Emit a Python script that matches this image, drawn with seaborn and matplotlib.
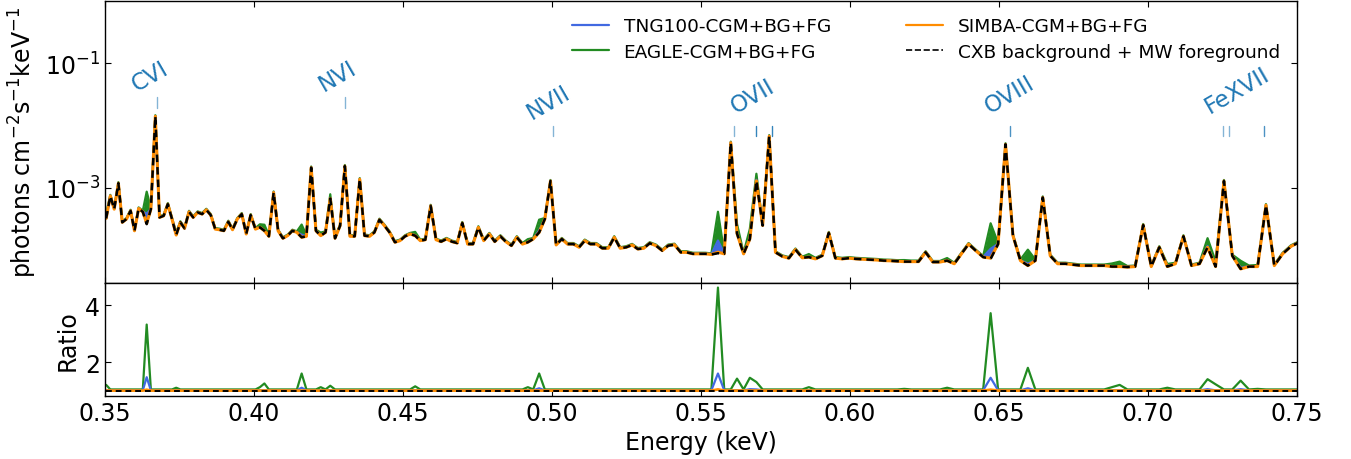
import numpy as np
import pandas as pd
import matplotlib
matplotlib.use("Agg")
import matplotlib.pyplot as plt
import seaborn as sns
from matplotlib.ticker import NullLocator, FixedLocator, LogFormatterSciNotation
from matplotlib.lines import Line2D

# ---------------- data ----------------
energy_keV = [
    0.3504, 0.3518, 0.3531, 0.3545, 0.3558, 0.3572, 0.3586, 0.3599, 0.3613, 0.3627,
    0.3640, 0.3654, 0.3669, 0.3683, 0.3697, 0.3711, 0.3725, 0.3739, 0.3753, 0.3767,
    0.3782, 0.3796, 0.3811, 0.3826, 0.3840, 0.3855, 0.3870, 0.3884, 0.3899, 0.3914,
    0.3928, 0.3944, 0.3959, 0.3974, 0.3989, 0.4005, 0.4020, 0.4035, 0.4050, 0.4066,
    0.4081, 0.4097, 0.4113, 0.4129, 0.4144, 0.4160, 0.4176, 0.4192, 0.4208, 0.4224,
    0.4240, 0.4256, 0.4272, 0.4289, 0.4305, 0.4322, 0.4338, 0.4355, 0.4371, 0.4388,
    0.4404, 0.4421, 0.4438, 0.4455, 0.4473, 0.4490, 0.4507, 0.4524, 0.4541, 0.4558,
    0.4575, 0.4593, 0.4611, 0.4628, 0.4646, 0.4664, 0.4682, 0.4699, 0.4717, 0.4735,
    0.4753, 0.4771, 0.4790, 0.4808, 0.4827, 0.4845, 0.4864, 0.4882, 0.4901, 0.4919,
    0.4937, 0.4957, 0.4976, 0.4995, 0.5014, 0.5033, 0.5052, 0.5072, 0.5091, 0.5110,
    0.5129, 0.5149, 0.5169, 0.5189, 0.5209, 0.5229, 0.5249, 0.5269, 0.5288, 0.5308,
    0.5328, 0.5349, 0.5370, 0.5390, 0.5411, 0.5432, 0.5452, 0.5473, 0.5494, 0.5515,
    0.5535, 0.5557, 0.5578, 0.5600, 0.5621, 0.5643, 0.5664, 0.5686, 0.5707, 0.5729,
    0.5750, 0.5773, 0.5795, 0.5817, 0.5840, 0.5862, 0.5884, 0.5907, 0.5929, 0.5951,
    0.5974, 0.5997, 0.6020, 0.6043, 0.6066, 0.6090, 0.6113, 0.6136, 0.6159, 0.6182,
    0.6206, 0.6230, 0.6254, 0.6278, 0.6302, 0.6326, 0.6350, 0.6374, 0.6398, 0.6422,
    0.6447, 0.6472, 0.6497, 0.6522, 0.6547, 0.6572, 0.6597, 0.6622, 0.6647, 0.6672,
    0.6697, 0.6723, 0.6749, 0.6775, 0.6801, 0.6827, 0.6853, 0.6879, 0.6905, 0.6931,
    0.6957, 0.6984, 0.7011, 0.7038, 0.7065, 0.7092, 0.7119, 0.7146, 0.7173, 0.7200,
    0.7227, 0.7255, 0.7283, 0.7311, 0.7339, 0.7368, 0.7396, 0.7424, 0.7452, 0.7480,
    0.7508,
]

# CXB background + MW foreground, units of 1e-5 photons cm^-2 s^-1 keV^-1
bg_flux_1e5 = [
    32.5, 74.5, 45.7, 119, 28.1, 31.7, 43.0, 20.6, 46.9, 41.4,
    26.3, 45.7, 1407, 33.7, 35.8, 55.0, 31.7, 17.6, 28.1, 22.5,
    41.4, 33.7, 40.5, 38.1, 44.6, 36.7, 21.9, 21.4, 20.6, 28.7,
    21.4, 31.7, 38.1, 18.3, 36.7, 21.9, 23.4, 20.6, 16.8, 84.5,
    20.6, 15.6, 17.2, 20.6, 19.4, 16.2, 16.8, 212, 20.6, 17.2,
    19.4, 67.8, 15.6, 24.8, 224, 16.8, 16.8, 138, 17.2, 16.8,
    19.4, 30.9, 24.8, 19.4, 13.5, 14.3, 16.8, 18.3, 17.2, 14.3,
    14.8, 51.6, 14.8, 13.8, 15.2, 13.8, 13.1, 27.4, 12.6, 12.6,
    23.4, 14.3, 18.3, 13.8, 16.8, 13.8, 11.9, 16.2, 12.6, 13.5,
    15.2, 19.4, 31.7, 129, 12.2, 15.2, 12.6, 12.6, 11.2, 14.3,
    12.6, 12.6, 10.8, 10.8, 16.2, 10.8, 11.2, 12.2, 10.5, 10.8,
    13.0, 11.9, 9.9, 11.9, 12.3, 9.3, 9.3, 8.8, 8.8, 8.8,
    8.6, 9.0, 8.8, 530, 18.6, 8.8, 15.2, 130, 25.0, 675,
    9.3, 8.0, 7.5, 10.3, 7.6, 7.8, 7.3, 8.2, 19.0, 7.5,
    7.3, 7.5, 7.3, 7.2, 7.1, 7.0, 6.85, 6.8, 6.7, 6.6,
    6.6, 6.6, 9.3, 6.5, 6.5, 6.85, 6.1, 8.8, 12.6, 9.9,
    7.8, 7.3, 12.6, 500, 17.2, 6.85, 5.7, 6.85, 70.3, 8.2,
    6.1, 6.1, 5.9, 5.7, 5.7, 5.7, 5.7, 5.5, 5.5, 5.4,
    5.5, 25.4, 5.5, 11.2, 5.5, 6.1, 16.8, 5.7, 6.1, 11.2,
    5.5, 129, 8.2, 5.05, 5.5, 5.5, 53.0, 5.7, 8.8, 11.6,
    13.5,
]

# (model CGM + BG + FG) / (BG + FG): typical level and the bins that stand out
eagle_ratio_base = 1.04
eagle_spike_bins = [0, 10, 17, 36, 37, 45, 49, 51, 68, 89, 91, 121, 124, 126, 127,
                    135, 149, 155, 161, 166, 177, 178, 184, 189, 190, 193, 195]
eagle_spike_ratio = [1.2, 3.32, 1.1, 1.12, 1.25, 1.6, 1.12, 1.17, 1.15, 1.12, 1.6, 4.62, 1.42,
                     1.45, 1.3, 1.12, 1.06, 1.1, 3.72, 1.8, 1.12, 1.2, 1.1, 1.4, 1.22, 1.35, 1.06]

tng_ratio_base = 1.01
tng_spike_bins = [10, 45, 91, 121, 126, 127, 161, 166, 189, 193]
tng_spike_ratio = [1.47, 1.1, 1.08, 1.6, 1.05, 1.04, 1.45, 1.08, 1.05, 1.05]

simba_ratio_base = 1.0
simba_spike_bins = [10, 121, 161]
simba_spike_ratio = [1.03, 1.04, 1.03]

# emission-line identifications
ion_names = ["CVI", "NVI", "NVII", "OVII", "OVIII", "FeXVII"]
line_energy_keV = [0.3675, 0.4307, 0.5003, 0.5610, 0.5686, 0.5739,
                   0.6536, 0.7252, 0.7271, 0.7389]

# ---------------- annotation placement / styles ----------------
ion_label_x = [0.3651, 0.4282, 0.4990, 0.5675, 0.6537, 0.7299]
ion_label_y = [0.062, 0.0645, 0.024, 0.0298, 0.032, 0.037]
marker_lo = [0.0189, 0.0189, 0.00685, 0.00685, 0.00685, 0.00685,
             0.00685, 0.00685, 0.00685, 0.00685]
marker_hi = [0.0290, 0.0290, 0.00989, 0.00989, 0.00989, 0.00989,
             0.00989, 0.00989, 0.00989, 0.00989]
marker_alpha = [0.55, 0.55, 0.55, 0.55, 0.9, 0.9, 0.8, 0.55, 0.55, 0.8]

C_TNG = "royalblue"
C_EAGLE = "forestgreen"
C_SIMBA = "darkorange"
C_LBL = "#1f77b4"


def build_ratio(base, bins, vals):
    r = np.full(len(energy_keV), base, dtype=float)
    r[bins] = vals
    return r


bg = np.array(bg_flux_1e5) * 1e-5
r_eagle = build_ratio(eagle_ratio_base, eagle_spike_bins, eagle_spike_ratio)
r_tng = build_ratio(tng_ratio_base, tng_spike_bins, tng_spike_ratio)
r_simba = build_ratio(simba_ratio_base, simba_spike_bins, simba_spike_ratio)

df = pd.DataFrame({
    "energy": energy_keV,
    "bg": bg,
    "eagle": bg * r_eagle,
    "tng": bg * r_tng,
    "simba": bg * r_simba,
    "r_eagle": r_eagle,
    "r_tng": r_tng,
    "r_simba": r_simba,
    "r_bg": bg / bg,
})

# ---------------- figure ----------------
sns.set_style("ticks")
plt.rcParams["font.family"] = ["DejaVu Sans"]
plt.rcParams["mathtext.fontset"] = "dejavusans"
for key in ("text.color", "axes.labelcolor", "xtick.color", "ytick.color",
            "axes.edgecolor"):
    plt.rcParams[key] = "black"

fig = plt.figure(figsize=(13.51, 4.60), dpi=100)
ax = fig.add_axes([0.0777, 0.3826, 0.8823, 0.6137])
axr = fig.add_axes([0.0777, 0.1376, 0.8823, 0.2450], sharex=ax)

DASH = (0, (3.0, 2.0))

ax.set_yscale("log")
ax.fill_between(df["energy"], df["bg"], df["eagle"], color=C_EAGLE, lw=0, zorder=1)
ax.fill_between(df["energy"], df["bg"], df["tng"], color=C_TNG, lw=0, zorder=1.5)
sns.lineplot(data=df, x="energy", y="eagle", ax=ax, color=C_EAGLE, lw=1.6, zorder=2)
sns.lineplot(data=df, x="energy", y="tng", ax=ax, color=C_TNG, lw=1.6, zorder=2.2)
sns.lineplot(data=df, x="energy", y="simba", ax=ax, color=C_SIMBA, lw=2.2, zorder=2.4)
sns.lineplot(data=df, x="energy", y="bg", ax=ax, color="black", lw=1.8,
             linestyle=DASH, zorder=2.6)

for name, xl, yl in zip(ion_names, ion_label_x, ion_label_y):
    ax.text(xl, yl, name, color=C_LBL, fontsize=16.5, rotation=30,
            ha="center", va="center")
for e, lo, hi, a in zip(line_energy_keV, marker_lo, marker_hi, marker_alpha):
    ax.plot([e, e], [lo, hi], color=C_LBL, lw=1.0, alpha=a)

ax.set_xlim(0.35, 0.75)
ax.set_ylim(3e-5, 1.0)
ax.yaxis.set_major_locator(FixedLocator([1e-3, 1e-1]))
ax.yaxis.set_major_formatter(LogFormatterSciNotation())
ax.yaxis.set_minor_locator(NullLocator())
ax.set_ylabel(r"photons cm$^{-2}$s$^{-1}$keV$^{-1}$", fontsize=17)
ax.set_xlabel("")
ax.tick_params(axis="x", labelbottom=False)

handles = [
    Line2D([], [], color=C_TNG, lw=1.6),
    Line2D([], [], color=C_EAGLE, lw=1.6),
    Line2D([], [], color=C_SIMBA, lw=1.6),
    Line2D([], [], color="black", lw=1.2, linestyle="--"),
]
labels = ["TNG100-CGM+BG+FG", "EAGLE-CGM+BG+FG", "SIMBA-CGM+BG+FG",
          "CXB background + MW foreground"]
ax.legend(handles, labels, loc="upper right", ncol=2, frameon=False,
          fontsize=13.3, columnspacing=4.1, labelspacing=0.4,
          handlelength=2.0, handletextpad=0.8)

# ratio panel
sns.lineplot(data=df, x="energy", y="r_eagle", ax=axr, color=C_EAGLE, lw=1.6)
sns.lineplot(data=df, x="energy", y="r_tng", ax=axr, color=C_TNG, lw=1.6)
sns.lineplot(data=df, x="energy", y="r_simba", ax=axr, color=C_SIMBA, lw=2.0)
sns.lineplot(data=df, x="energy", y="r_bg", ax=axr, color="black", lw=1.4,
             linestyle=DASH)
axr.set_ylim(0.82, 4.78)
axr.set_yticks([2, 4])
axr.set_xticks([0.35, 0.40, 0.45, 0.50, 0.55, 0.60, 0.65, 0.70, 0.75])
axr.set_xticklabels(["0.35", "0.40", "0.45", "0.50", "0.55", "0.60", "0.65", "0.70", "0.75"])
axr.set_xlim(0.35, 0.75)
axr.set_ylabel("Ratio", fontsize=17)
axr.set_xlabel("Energy (keV)", fontsize=17)

for a in (ax, axr):
    a.tick_params(which="both", direction="in", top=True, right=True,
                  labelsize=17, length=4.5, width=0.8, colors="black")
    for s in a.spines.values():
        s.set_linewidth(1.0)
        s.set_color("black")

fig.savefig("out.png", dpi=100)
